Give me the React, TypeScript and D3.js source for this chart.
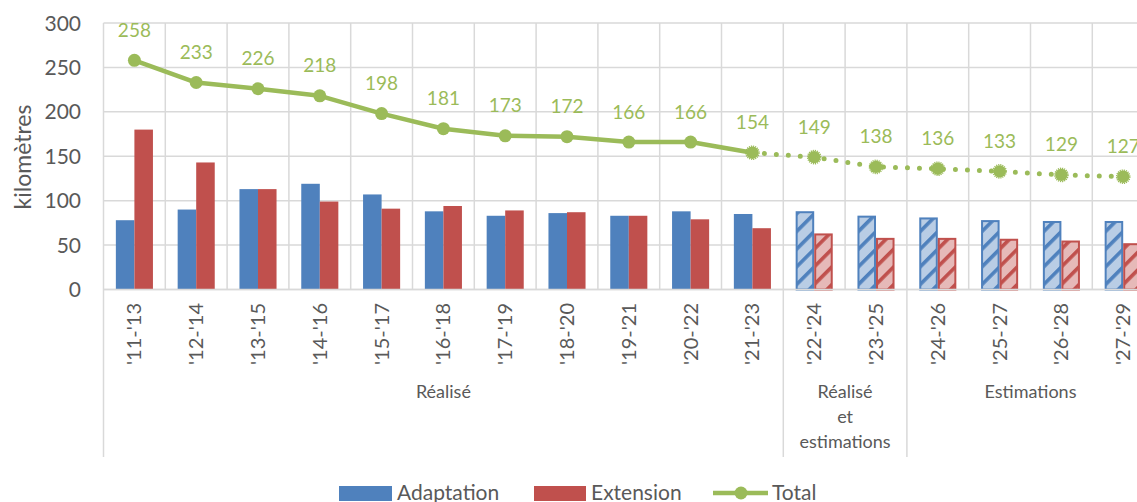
import React from "react";
import * as d3 from "d3";

const categories = [
  "'11-'13", "'12-'14", "'13-'15", "'14-'16", "'15-'17", "'16-'18", "'17-'19", "'18-'20", "'19-'21",
  "'20-'22", "'21-'23", "'22-'24", "'23-'25", "'24-'26", "'25-'27", "'26-'28", "'27-'29",
];
const adaptation = [78, 90, 113, 119, 107, 88, 83, 86, 83, 88, 85, 87, 82, 80, 77, 76, 76];
const extension = [180, 143, 113, 99, 91, 94, 89, 87, 83, 79, 69, 62, 57, 57, 56, 54, 51];
const total = [258, 233, 226, 218, 198, 181, 173, 172, 166, 166, 154, 149, 138, 136, 133, 129, 127];
const yTicks = [0, 50, 100, 150, 200, 250, 300];
const groupLabels = [["Réalisé"], ["Réalisé", "et", "estimations"], ["Estimations"]];
const groupStarts = [0, 11, 13];
const groupEnds = [11, 13, 17];
const hatchFrom = 11; // estimated bars
const dottedFrom = 10; // total line becomes dotted

const BLUE = "#4F81BD";
const RED = "#C0504D";
const GREEN = "#9BBB59";
const GRID = "#D9D9D9";
const TEXT = "#595959";
const FONT = "Lato, 'Open Sans', sans-serif";

const App = () => {
  const width = 1137;
  const height = 502;
  const left = 103.5;
  const step = 61.8;

  const x = d3
    .scaleBand()
    .domain(categories)
    .range([left, left + step * categories.length])
    .paddingInner(0.4)
    .paddingOuter(0.2);
  const x1 = d3.scaleBand().domain(["a", "e"]).range([0, x.bandwidth()]);
  const y = d3.scaleLinear().domain([0, 300]).range([289.5, 23]);

  const boundary = (i) => x(categories[i]) - x.step() * 0.2;
  const cx = (i) => x(categories[i]) + x.bandwidth() / 2;

  const line = d3
    .line()
    .x((d) => cx(d))
    .y((d) => y(total[d]));
  const idx = d3.range(categories.length);
  const solidIdx = idx.filter((i) => i <= dottedFrom);
  const dotIdx = idx.filter((i) => i >= dottedFrom);

  return (
    <svg
      width={width}
      height={height}
      style={{ position: "absolute", left: 0, top: 0, display: "block", background: "#fff" }}
      fontFamily={FONT}
    >
      <defs>
        <pattern id="hatchBlue" patternUnits="userSpaceOnUse" width="12.5" height="12.5" patternTransform="rotate(45)">
          <rect width="12.5" height="12.5" fill="#B9CDE5" />
          <rect width="3.6" height="12.5" fill={BLUE} />
        </pattern>
        <pattern id="hatchRed" patternUnits="userSpaceOnUse" width="12.5" height="12.5" patternTransform="rotate(45)">
          <rect width="12.5" height="12.5" fill="#E6B9B8" />
          <rect width="3.6" height="12.5" fill={RED} />
        </pattern>
      </defs>

      {/* horizontal grid */}
      {yTicks.map((t) => (
        <line key={"h" + t} x1={left} x2={width} y1={y(t)} y2={y(t)} stroke={GRID} strokeWidth={1.5} />
      ))}
      {/* vertical grid */}
      {idx.slice(1).map((i) => (
        <line key={"v" + i} x1={boundary(i)} x2={boundary(i)} y1={y(300)} y2={y(0)} stroke={GRID} strokeWidth={1.5} />
      ))}

      {/* y ticks */}
      {yTicks.map((t) => (
        <text key={"t" + t} x={81} y={y(t)} dy="0.36em" textAnchor="end" fontSize={21} fill={TEXT}>
          {t}
        </text>
      ))}
      <text
        transform={`translate(31,157) rotate(-90)`}
        textAnchor="middle"
        fontSize={23}
        fill={TEXT}
      >
        kilomètres
      </text>

      {/* bars */}
      {categories.map((c, i) => {
        const hatched = i >= hatchFrom;
        return (
          <g key={c} transform={`translate(${x(c)},0)`}>
            <rect
              x={x1("a") + (hatched ? 1 : 0)}
              y={y(adaptation[i])}
              width={x1.bandwidth() - (hatched ? 2 : 0)}
              height={y(0) - y(adaptation[i])}
              fill={hatched ? "url(#hatchBlue)" : BLUE}
              stroke={hatched ? BLUE : "none"}
              strokeWidth={2}
            />
            <rect
              x={x1("e") + (hatched ? 1 : 0)}
              y={y(extension[i])}
              width={x1.bandwidth() - (hatched ? 2 : 0)}
              height={y(0) - y(extension[i])}
              fill={hatched ? "url(#hatchRed)" : RED}
              stroke={hatched ? RED : "none"}
              strokeWidth={2}
            />
          </g>
        );
      })}

      {/* axes / separators */}
      <line x1={left} x2={width} y1={y(0)} y2={y(0)} stroke={GRID} strokeWidth={1.5} />
      <line x1={left} x2={left} y1={y(300)} y2={457} stroke={GRID} strokeWidth={1.5} />
      {groupStarts.slice(1).map((g) => (
        <line key={"s" + g} x1={boundary(g)} x2={boundary(g)} y1={y(0)} y2={457} stroke={GRID} strokeWidth={1.5} />
      ))}

      {/* category labels */}
      {categories.map((c, i) => (
        <text
          key={"c" + c}
          transform={`translate(${cx(i) + 7},303) rotate(-90)`}
          textAnchor="end"
          fontSize={20}
          fill={TEXT}
        >
          {c}
        </text>
      ))}

      {/* group labels */}
      {groupLabels.map((lines, g) => {
        const mid = boundary(groupStarts[g]) + (x.step() * (groupEnds[g] - groupStarts[g])) / 2;
        return lines.map((l, k) => (
          <text key={"g" + g + k} x={mid} y={398 + k * 25} textAnchor="middle" fontSize={18} fill={TEXT}>
            {l}
          </text>
        ));
      })}

      {/* total line */}
      <path d={line(solidIdx)} fill="none" stroke={GREEN} strokeWidth={4.5} strokeLinejoin="round" />
      <path
        d={line(dotIdx)}
        fill="none"
        stroke={GREEN}
        strokeWidth={5}
        strokeLinecap="round"
        strokeDasharray="0 12"
      />
      {idx.map((i) =>
        i < dottedFrom ? (
          <circle key={"m" + i} cx={cx(i)} cy={y(total[i])} r={6.5} fill={GREEN} />
        ) : (
          <g key={"m" + i}>
            <circle cx={cx(i)} cy={y(total[i])} r={6.2} fill={GREEN} />
            <circle
              cx={cx(i)}
              cy={y(total[i])}
              r={6.6}
              fill="none"
              stroke={GREEN}
              strokeWidth={1.4}
              strokeDasharray="1.2 0.9"
            />
          </g>
        )
      )}
      {idx.map((i) => (
        <text key={"l" + i} x={cx(i)} y={y(total[i]) - 23.5} textAnchor="middle" fontSize={19} fill={GREEN}>
          {total[i]}
        </text>
      ))}

      {/* legend */}
      <rect x={339} y={486} width={53} height={15} fill={BLUE} />
      <text x={397} y={500} fontSize={21} fill={TEXT}>Adaptation</text>
      <rect x={534} y={486} width={52} height={15} fill={RED} />
      <text x={591} y={500} fontSize={21} fill={TEXT}>Extension</text>
      <line x1={713} x2={768} y1={493} y2={493} stroke={GREEN} strokeWidth={4.5} />
      <circle cx={741} cy={493} r={6.5} fill={GREEN} />
      <text x={772} y={500} fontSize={21} fill={TEXT}>Total</text>
    </svg>
  );
};

export default App;
